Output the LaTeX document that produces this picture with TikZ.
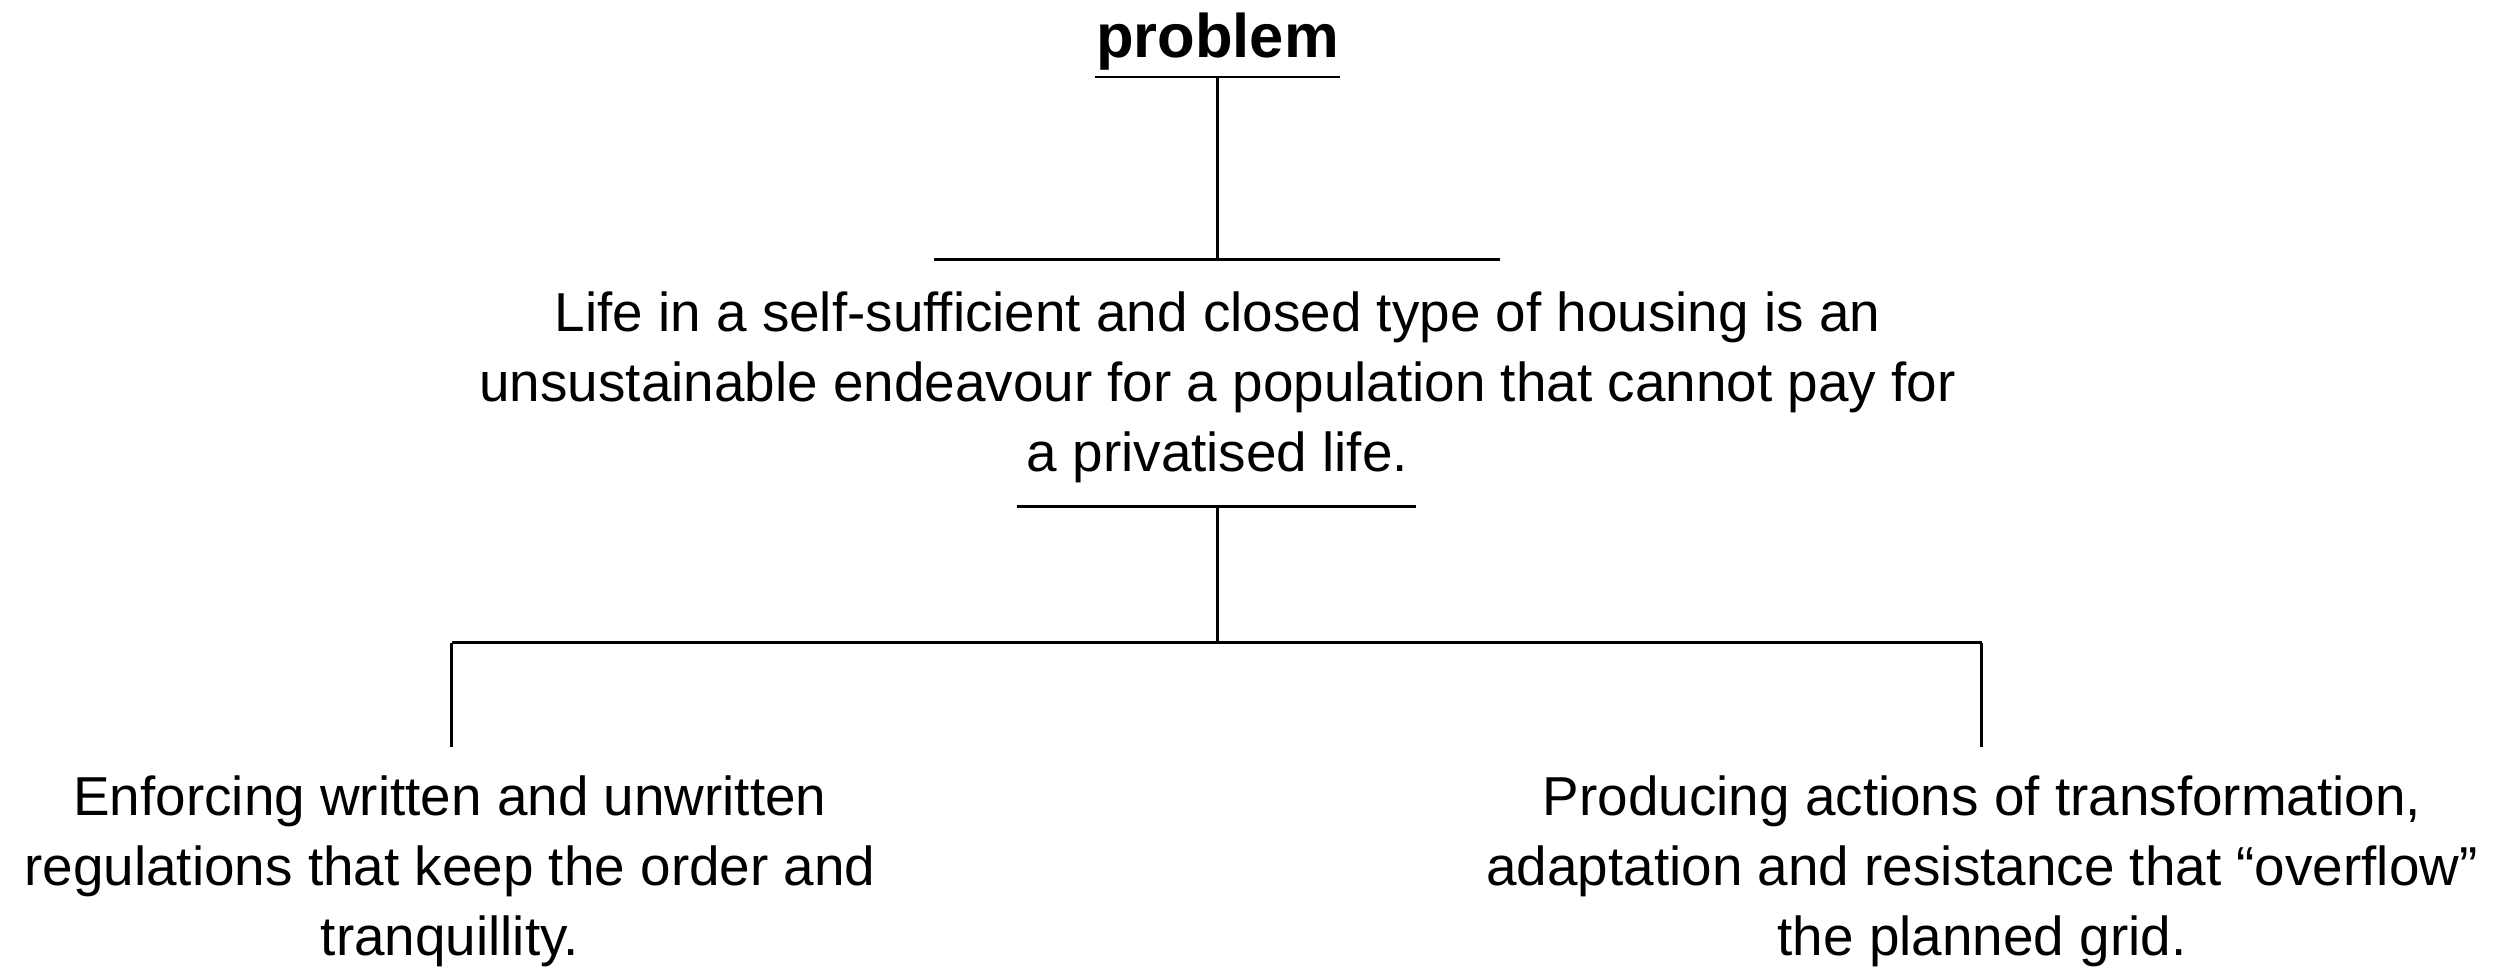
\documentclass[tikz,border=0pt]{standalone}
\usepackage{fontspec}
\setmainfont{Liberation Sans}
\usetikzlibrary{positioning}

\begin{document}
\begin{tikzpicture}[x=0.01cm,y=-0.01cm]
 \tikzset{txt/.style={inner sep=0pt,align=center,font=\fontsize{15.6}{19.9}\selectfont},
  head/.style={inner sep=0pt,font=\fontsize{17.5}{20}\selectfont\bfseries},
  line/.style={line width=0.75pt}}
 \useasboundingbox (0,0) rectangle (2512,969);
 % base anchor sits on the last line
 \node[head,anchor=base] (T) at (1217.5,57) {problem};
 \node[txt,anchor=base] (M) at (1217.5,471) {Life in a self-sufficient and closed type of housing is an\\unsustainable endeavour for a population that cannot pay for\\a privatised life.};
 \node[txt,anchor=base] (A) at (450,955) {Enforcing written and unwritten\\regulations that keep the order and\\tranquillity.};
 \node[txt,anchor=base] (B) at (1982,955) {Producing actions of transformation,\\adaptation and resistance that “overflow”\\the planned grid.};

 \coordinate (U) at (1217.5,77);
 \coordinate (V) at (1217.5,259.5);
 \coordinate (W) at (1217.5,506.5);
 \coordinate (X) at (1217.5,642.5);
 \coordinate (XA) at (451.8,642.5);
 \coordinate (XB) at (1981.7,642.5);
 \coordinate (A0) at (451.8,747);
 \coordinate (B0) at (1981.7,747);

 \draw[line] (U -| T.west) -- (U -| T.east);
 \draw[line] (U) -- (V);
 \draw[line] (V) ++(-283.5,0) -- ++(565.5,0);
 \draw[line] (W) ++(-200.5,0) -- ++(399,0);
 \draw[line] (W) -- (X);
 \draw[line] (XA) -- (XB);
 \draw[line] (XA) -- (A0);
 \draw[line] (XB) -- (B0);
\end{tikzpicture}
\end{document}
